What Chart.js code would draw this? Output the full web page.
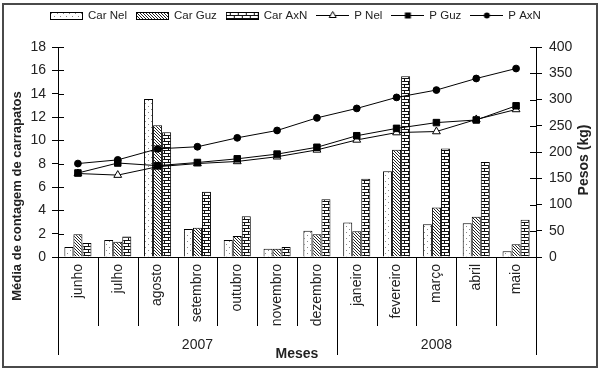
<!DOCTYPE html>
<html>
<head>
<meta charset="utf-8">
<script src="https://cdn.jsdelivr.net/npm/chart.js@4.4.0/dist/chart.umd.min.js"></script>
<style>
  html, body { margin: 0; padding: 0; background: #fff; }
</style>
</head>
<body>
<canvas id="carrapatosChart" width="600" height="372"></canvas>
<script>
// Meses e anos (eixo x em dois niveis)
const meses = ['junho', 'julho', 'agosto', 'setembro', 'outubro', 'novembro', 'dezembro',
               'janeiro', 'fevereiro', 'março', 'abril', 'maio'];
const anos = ['2007', '2008'];
const mesesPorAno = [7, 5];

// Media de contagem de carrapatos (eixo esquerdo)
const carNel = [0.85, 1.45, 13.55, 2.4, 1.45, 0.7, 2.25, 2.95, 7.35, 2.8, 2.9, 0.5];
const carGuz = [1.95, 1.3, 11.3, 2.5, 1.8, 0.7, 1.95, 2.2, 9.2, 4.25, 3.45, 1.1];
const carAxN = [1.2, 1.75, 10.7, 5.6, 3.5, 0.85, 4.95, 6.7, 15.5, 9.3, 8.15, 3.2];

// Pesos em kg (eixo direito)
const pNel = [159, 156, 172, 178, 182, 191, 204, 223, 237, 239, 262, 281];
const pGuz = [160, 179, 174, 180, 187, 196, 209, 231, 245, 256, 261, 288];
const pAxN = [178, 185, 206, 210, 227, 241, 265, 283, 304, 318, 340, 359];

const ticksCar = { min: 0, max: 18, step: 2 };
const ticksPeso = { min: 0, max: 400, step: 50 };

const fonte = "'Liberation Sans', Arial, sans-serif";
const corTexto = '#222';

// texturas das barras
function textura(tipo) {
  const c = document.createElement('canvas');
  const g = c.getContext('2d');
  if (tipo === 'pontos') {
    c.width = 6; c.height = 6;
    g.fillStyle = '#fff'; g.fillRect(0, 0, 6, 6);
    g.fillStyle = '#888';
    g.fillRect(1, 1, 1, 1); g.fillRect(4, 4, 1, 1);
  } else if (tipo === 'hachura') {
    c.width = 3; c.height = 3;
    g.fillStyle = '#fff'; g.fillRect(0, 0, 3, 3);
    g.fillStyle = '#222';
    for (let i = 0; i < 3; i++) g.fillRect(i, i, 1, 1);
  } else {
    c.width = 8; c.height = 6;
    g.fillStyle = '#fff'; g.fillRect(0, 0, 8, 6);
    g.fillStyle = '#111';
    g.fillRect(0, 0, 8, 1); g.fillRect(0, 3, 8, 1);
    g.fillRect(4, 1, 1, 2); g.fillRect(0, 4, 1, 2);
  }
  return g.createPattern(c, 'repeat');
}
const padNel = textura('pontos');
const padGuz = textura('hachura');
const padAxN = textura('tijolo');

// icones da legenda
function iconeBarra(pad) {
  const c = document.createElement('canvas');
  c.width = 33; c.height = 8;
  const g = c.getContext('2d');
  g.fillStyle = pad; g.fillRect(0, 0, 33, 8);
  g.strokeStyle = '#000'; g.lineWidth = 1;
  g.strokeRect(0.5, 0.5, 32, 7);
  return c;
}
function iconeLinha(marca) {
  const c = document.createElement('canvas');
  c.width = 33; c.height = 11;
  const g = c.getContext('2d');
  g.strokeStyle = '#000'; g.lineWidth = 1;
  g.beginPath(); g.moveTo(0, 5.5); g.lineTo(33, 5.5); g.stroke();
  g.beginPath();
  if (marca === 'triangle') {
    g.moveTo(16.5, 1.5); g.lineTo(20, 7.5); g.lineTo(13, 7.5); g.closePath();
    g.fillStyle = '#fff'; g.fill(); g.stroke();
  } else if (marca === 'rect') {
    g.fillStyle = '#000'; g.fillRect(13.5, 2.5, 6, 6);
  } else {
    g.arc(16.5, 5.5, 3, 0, Math.PI * 2); g.fillStyle = '#000'; g.fill();
  }
  return c;
}
const icones = [iconeBarra(padNel), iconeBarra(padGuz), iconeBarra(padAxN),
                iconeLinha('triangle'), iconeLinha('rect'), iconeLinha('circle')];

function barra(label, data, pad) {
  return {
    type: 'bar', label, data, yAxisID: 'y', order: 2,
    backgroundColor: pad, borderColor: '#000', borderWidth: 1,
    barPercentage: 1, categoryPercentage: 0.68
  };
}
function linha(label, data, estilo, raio, fundo, ordem) {
  return {
    type: 'line', label, data, yAxisID: 'y1', order: ordem,
    borderColor: '#000', borderWidth: 1, tension: 0,
    pointStyle: estilo, pointRadius: raio, pointBackgroundColor: fundo,
    pointBorderColor: '#000', pointBorderWidth: 1
  };
}

// legenda, linhas, rotulos de ano e titulos fora da area do grafico
const extras = {
  id: 'extras',
  beforeDraw(chart) {
    const ctx = chart.ctx;
    ctx.save();
    ctx.fillStyle = '#fff';
    ctx.fillRect(0, 0, chart.width, chart.height);
    ctx.restore();
  },
  afterDraw(chart) {
    const ctx = chart.ctx;
    const area = chart.chartArea;
    const x = chart.scales.x, y = chart.scales.y, y1 = chart.scales.y1;
    ctx.save();

    // legenda
    ctx.fillStyle = corTexto;
    ctx.font = '11.5px ' + fonte;
    ctx.textAlign = 'left';
    ctx.textBaseline = 'middle';
    let lx = 50;
    chart.data.datasets.forEach((ds, i) => {
      const ic = icones[i];
      ctx.drawImage(ic, lx, Math.round(15.5 - ic.height / 2));
      ctx.fillText(ds.label, lx + 38, 16);
      lx += 38 + ctx.measureText(ds.label).width + 9;
    });

    ctx.strokeStyle = '#000';
    ctx.lineWidth = 1;
    const linhaV = (px, y0, y2) => {
      const xx = Math.round(px) + 0.5;
      ctx.beginPath(); ctx.moveTo(xx, y0); ctx.lineTo(xx, y2); ctx.stroke();
    };
    const linhaH = (x0, x2, py) => {
      const yy = Math.round(py) + 0.5;
      ctx.beginPath(); ctx.moveTo(x0, yy); ctx.lineTo(x2, yy); ctx.stroke();
    };
    // marcas internas dos eixos y
    y.ticks.forEach((t, i) => linhaH(area.left, area.left + 6, y.getPixelForTick(i)));
    y1.ticks.forEach((t, i) => linhaH(area.right - 6, area.right, y1.getPixelForTick(i)));

    // separadores dos meses e dos anos
    const n = meses.length;
    const meio = (x.getPixelForValue(1) - x.getPixelForValue(0)) / 2;
    const borda = i => i < n ? x.getPixelForValue(i) - meio : x.getPixelForValue(n - 1) + meio;
    const limitesAno = [0];
    mesesPorAno.forEach(k => limitesAno.push(limitesAno[limitesAno.length - 1] + k));
    for (let i = 0; i <= n; i++) {
      const longa = limitesAno.includes(i);
      linhaV(borda(i), area.bottom, area.bottom + (longa ? 98 : 69));
    }
    ctx.font = '14px ' + fonte;
    ctx.textAlign = 'center';
    anos.forEach((a, j) => {
      const cx = (borda(limitesAno[j]) + borda(limitesAno[j + 1])) / 2;
      ctx.fillText(a, cx, area.bottom + 88);
    });
    ctx.font = 'bold 14px ' + fonte;
    ctx.fillText('Meses', (area.left + area.right) / 2, area.bottom + 97);

    // titulos dos eixos
    ctx.save();
    ctx.translate(17, 196);
    ctx.rotate(-Math.PI / 2);
    ctx.font = 'bold 13px ' + fonte;
    ctx.fillText('Média de contagem de carrapatos', 0, 0);
    ctx.restore();
    ctx.save();
    ctx.translate(584, 160);
    ctx.rotate(-Math.PI / 2);
    ctx.font = 'bold 14px ' + fonte;
    ctx.fillText('Pesos (kg)', 0, 0);
    ctx.restore();

    // moldura
    ctx.strokeStyle = '#4a4a4a';
    ctx.lineWidth = 2;
    ctx.strokeRect(3, 4, 594, 363);
    ctx.restore();
  }
};

const ctx = document.getElementById('carrapatosChart').getContext('2d');
const carrapatosChart = new Chart(ctx, {
  data: {
    labels: meses,
    datasets: [
      barra('Car Nel', carNel, padNel),
      barra('Car Guz', carGuz, padGuz),
      barra('Car AxN', carAxN, padAxN),
      linha('P Nel', pNel, 'triangle', 4.5, '#fff', 1),
      linha('P Guz', pGuz, 'rect', 4.6, '#000', 0),
      linha('P AxN', pAxN, 'circle', 3.4, '#000', 0)
    ]
  },
  options: {
    responsive: false,
    animation: false,
    events: [],
    layout: { padding: 0 },
    plugins: {
      tooltip: { enabled: false },
      legend: { display: false }
    },
    scales: {
      x: {
        type: 'category',
        offset: true,
        grid: { display: false, drawTicks: false },
        border: { display: true, color: '#000', width: 1 },
        ticks: {
          minRotation: 90, maxRotation: 90, autoSkip: false, padding: 7,
          color: corTexto, font: { family: fonte, size: 14 }
        },
        afterFit: s => { s.height = 115; }
      },
      espaco: {
        type: 'linear', axis: 'x', position: 'top', display: true,
        grid: { display: false, drawTicks: false },
        border: { display: false },
        ticks: { display: false },
        afterFit: s => { s.height = 47; }
      },
      y: {
        position: 'left',
        min: ticksCar.min, max: ticksCar.max,
        ticks: { stepSize: ticksCar.step, padding: 6, color: corTexto, font: { family: fonte, size: 14 } },
        grid: { drawOnChartArea: false, tickLength: 6, color: '#000' },
        border: { color: '#000' },
        afterFit: s => { s.width = 58; }
      },
      y1: {
        position: 'right',
        min: ticksPeso.min, max: ticksPeso.max,
        ticks: { stepSize: ticksPeso.step, padding: 7, color: corTexto, font: { family: fonte, size: 14 } },
        grid: { drawOnChartArea: false, tickLength: 6, color: '#000' },
        border: { color: '#000' },
        afterFit: s => { s.width = 64; }
      }
    }
  },
  plugins: [extras]
});
</script>
</body>
</html>
